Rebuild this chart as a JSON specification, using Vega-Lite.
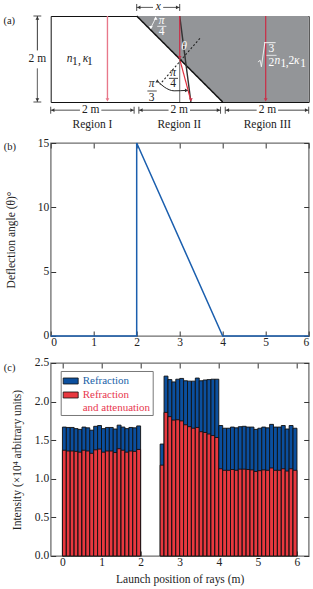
{"$schema":"https://vega.github.io/schema/vega-lite/v6.json","padding":{"left":2.7,"top":0,"right":0,"bottom":0},"bounds":"flush","spacing":41,"background":"white",
"config":{"font":"Liberation Serif","view":{"stroke":"#6e6e6e","strokeWidth":1.3},"axis":{"labelFont":"Liberation Serif","titleFont":"Liberation Serif","labelFontSize":11.5,"titleFontSize":11.5,"titleFontWeight":"normal","labelColor":"#222","titleColor":"#222","grid":false,"domain":false,"ticks":true,"tickColor":"#333","tickSize":-5,"tickWidth":1,"labelPadding":6,"zindex":1},"text":{"font":"Liberation Serif"}},
"vconcat":[
{"width":258,"height":86,"view":{"stroke":"#111","strokeWidth":1},
"encoding":{"x":{"field":"x","type":"quantitative","scale":{"domain":[0,6]},"axis":null},"y":{"field":"y","type":"quantitative","scale":{"domain":[0,2]},"axis":null}},
"layer":[
{"data":{"values":[{"x":2,"y":2,"y2":2},{"x":4,"y":2,"y2":0},{"x":6,"y":2,"y2":0}]},"mark":{"type":"area","color":"#939598","clip":false},"encoding":{"y2":{"field":"y2"}}},
{"data":{"values":[
{"x":2,"y":2,"x2":4,"y2":0,"kind":"edge"},
{"x":1.32,"y":2,"x2":1.32,"y2":0.05,"kind":"pink"},
{"x":5,"y":2,"x2":5,"y2":0.05,"kind":"dark"},
{"x":3,"y":1,"x2":3,"y2":0,"kind":"grey"},
{"x":3,"y":2,"x2":3.26,"y2":0,"kind":"edgethin"},
{"x":3,"y":2,"x2":3,"y2":1.03,"kind":"dark"},
{"x":3,"y":1,"x2":3.26,"y2":0.03,"kind":"red"},
{"x":3.47,"y":1.48,"x2":2.54,"y2":0.41,"kind":"dash"},
{"x":-0.31,"y":2,"x2":-0.31,"y2":1.2,"kind":"dim"},
{"x":-0.31,"y":0.78,"x2":-0.31,"y2":0,"kind":"dim"},
{"x":-0.4,"y":2,"x2":-0.22,"y2":2,"kind":"dim"},
{"x":-0.4,"y":0,"x2":-0.22,"y2":0,"kind":"dim"},
{"x":0,"y":-0.19,"x2":0.68,"y2":-0.19,"kind":"dim"},
{"x":1.18,"y":-0.19,"x2":1.94,"y2":-0.19,"kind":"dim"},
{"x":2.05,"y":-0.19,"x2":2.74,"y2":-0.19,"kind":"dim"},
{"x":3.24,"y":-0.19,"x2":3.95,"y2":-0.19,"kind":"dim"},
{"x":4.06,"y":-0.19,"x2":4.79,"y2":-0.19,"kind":"dim"},
{"x":5.29,"y":-0.19,"x2":6,"y2":-0.19,"kind":"dim"},
{"x":0,"y":-0.11,"x2":0,"y2":-0.27,"kind":"dim"},
{"x":1.94,"y":-0.11,"x2":1.94,"y2":-0.27,"kind":"dim"},
{"x":2.05,"y":-0.11,"x2":2.05,"y2":-0.27,"kind":"dim"},
{"x":3.95,"y":-0.11,"x2":3.95,"y2":-0.27,"kind":"dim"},
{"x":4.06,"y":-0.11,"x2":4.06,"y2":-0.27,"kind":"dim"},
{"x":6,"y":-0.11,"x2":6,"y2":-0.27,"kind":"dim"},
{"x":2,"y":2.2,"x2":2.38,"y2":2.2,"kind":"dim"},
{"x":2.62,"y":2.2,"x2":3,"y2":2.2,"kind":"dim"},
{"x":2,"y":2.12,"x2":2,"y2":2.28,"kind":"dim"},
{"x":3,"y":2.12,"x2":3,"y2":2.28,"kind":"dim"},
{"x":2.48,"y":1.76,"x2":2.69,"y2":1.76,"kind":"white"},
{"x":2.33,"y":1.73,"x2":2.44,"y2":1.95,"kind":"white"},
{"x":2.75,"y":0.55,"x2":2.96,"y2":0.55,"kind":"dim"},
{"x":2.25,"y":0.256,"x2":2.465,"y2":0.256,"kind":"dim"},
{"x":5.02,"y":1.085,"x2":5.25,"y2":1.085,"kind":"white"},
{"x":4.96,"y":1.38,"x2":5.23,"y2":1.38,"kind":"white"},
{"x":4.82,"y":0.93,"x2":4.87,"y2":0.97,"kind":"white"},
{"x":4.87,"y":0.97,"x2":4.9,"y2":0.82,"kind":"white"},
{"x":4.9,"y":0.82,"x2":4.98,"y2":1.38,"kind":"white"}
]},"mark":{"type":"rule","clip":false},"encoding":{"x2":{"field":"x2"},"y2":{"field":"y2"},
"color":{"field":"kind","type":"nominal","legend":null,"scale":{"domain":["edge","edgethin","pink","dark","red","grey","dash","dim","white"],"range":["#111","#333","#e8788a","#c8324a","#e0303f","#777","#222","#333","#fff"]}},
"size":{"field":"kind","type":"nominal","legend":null,"scale":{"domain":["edge","edgethin","pink","dark","red","grey","dash","dim","white"],"range":[1.5,0.9,1,1,1.4,1,0.9,0.8,1]}},
"strokeDash":{"field":"kind","type":"nominal","legend":null,"scale":{"domain":["edge","edgethin","pink","dark","red","grey","dash","dim","white"],"range":[[1,0],[1,0],[1,0],[1,0],[1,0],[1,0],[2,2],[1,0],[1,0]]}}}},
{"data":{"values":[{"x":2.48,"y":0.49},{"x":2.64,"y":0.35},{"x":2.87,"y":0.26},{"x":3.16,"y":0.27}]},"mark":{"type":"line","color":"#222","strokeWidth":1,"interpolate":"monotone","clip":false},"encoding":{}},
{"data":{"values":[
{"x":1.32,"y":0.05,"dir":"triangle-down","kind":"pink"},
{"x":5,"y":0.05,"dir":"triangle-down","kind":"dark"},
{"x":3,"y":1.03,"dir":"triangle-down","kind":"dark"},
{"x":3.26,"y":0.05,"dir":"triangle-down","kind":"dark"},
{"x":2.48,"y":0.49,"dir":"triangle-up","kind":"dim"},
{"x":3.16,"y":0.27,"dir":"triangle-right","kind":"dim"},
{"x":-0.31,"y":1.95,"dir":"triangle-up","kind":"dim"},
{"x":-0.31,"y":0.05,"dir":"triangle-down","kind":"dim"},
{"x":0.05,"y":-0.19,"dir":"triangle-left","kind":"dim"},
{"x":1.89,"y":-0.19,"dir":"triangle-right","kind":"dim"},
{"x":2.1,"y":-0.19,"dir":"triangle-left","kind":"dim"},
{"x":3.9,"y":-0.19,"dir":"triangle-right","kind":"dim"},
{"x":4.11,"y":-0.19,"dir":"triangle-left","kind":"dim"},
{"x":5.95,"y":-0.19,"dir":"triangle-right","kind":"dim"},
{"x":2.05,"y":2.2,"dir":"triangle-left","kind":"dim"},
{"x":2.95,"y":2.2,"dir":"triangle-right","kind":"dim"},
{"x":2.33,"y":1.73,"dir":"triangle-down","kind":"white"},
{"x":2.44,"y":1.95,"dir":"triangle-up","kind":"white"}
]},"mark":{"type":"point","filled":true,"size":14,"opacity":1,"clip":false},"encoding":{"shape":{"field":"dir","type":"nominal","scale":null},
"color":{"field":"kind","type":"nominal","legend":null,"scale":{"domain":["edge","edgethin","pink","dark","red","grey","dash","dim","white"],"range":["#111","#333","#e8788a","#c8324a","#e0303f","#777","#222","#333","#fff"]}}}},
{"data":{"values":[{"x":-1.1,"y":1.88,"label":"(a)"}]},"mark":{"type":"text","fontSize":10.5,"color":"#222","align":"left","clip":false},"encoding":{"text":{"field":"label"}}},
{"data":{"values":[
{"x":-0.31,"y":0.99,"label":"2 m"},
{"x":0.93,"y":-0.19,"label":"2 m"},
{"x":2.99,"y":-0.19,"label":"2 m"},
{"x":5.04,"y":-0.19,"label":"2 m"},
{"x":0.97,"y":-0.535,"label":"Region I"},
{"x":2.99,"y":-0.535,"label":"Region II"},
{"x":5.04,"y":-0.535,"label":"Region III"},
{"x":2.85,"y":0.43,"label":"4"},
{"x":2.35,"y":0.1,"label":"3"},
{"x":0.56,"y":0.93,"label":"1"},
{"x":0.67,"y":0.95,"label":","},
{"x":0.91,"y":0.93,"label":"1"}
]},"mark":{"type":"text","fontSize":11.5,"color":"#222","clip":false},"encoding":{"text":{"field":"label"}}},
{"data":{"values":[
{"x":0.44,"y":1.0,"label":"n"},
{"x":0.81,"y":1.0,"label":"κ"},
{"x":2.5,"y":2.2,"label":"x"},
{"x":2.85,"y":0.68,"label":"π"},
{"x":2.35,"y":0.41,"label":"π"}
]},"mark":{"type":"text","fontSize":11.5,"fontStyle":"italic","color":"#222","clip":false},"encoding":{"text":{"field":"label"}}},
{"data":{"values":[
{"x":2.58,"y":1.635,"label":"4"},
{"x":5.13,"y":1.225,"label":"3"},
{"x":5.13,"y":0.9,"label":"2"},
{"x":5.41,"y":0.88,"label":"1"},
{"x":5.5,"y":0.9,"label":","},
{"x":5.6,"y":0.95,"label":"2"},
{"x":5.87,"y":0.88,"label":"1"}
]},"mark":{"type":"text","fontSize":11.5,"color":"#fff","clip":false},"encoding":{"text":{"field":"label"}}},
{"data":{"values":[
{"x":2.58,"y":1.88,"label":"π"},
{"x":3.1,"y":1.28,"label":"θ"},
{"x":5.27,"y":0.95,"label":"n"},
{"x":5.72,"y":0.95,"label":"κ"}
]},"mark":{"type":"text","fontSize":11.5,"fontStyle":"italic","color":"#fff","clip":false},"encoding":{"text":{"field":"label"}}}
]},
{"bounds":"flush","spacing":27,"vconcat":[
{"width":258,"height":193,
"resolve":{"axis":{"x":"independent","y":"independent"}},
"layer":[
{"data":{"values":[{"x":0,"y":0,"ord":0},{"x":2,"y":0,"ord":1},{"x":2,"y":15,"ord":2},{"x":4,"y":0,"ord":3},{"x":6,"y":0,"ord":4}]},"mark":{"type":"line","color":"#1b5fae","strokeWidth":1.5,"clip":false},
"encoding":{"x":{"field":"x","type":"quantitative","scale":{"domain":[0,6],"nice":false,"zero":false},"axis":{"values":[0,1,2,3,4,5,6],"title":null}},
"y":{"field":"y","type":"quantitative","scale":{"domain":[0,15],"nice":false,"zero":false},"axis":{"values":[0,5,10,15],"title":"Deflection angle (θ)°","labelPadding":7,"titlePadding":21}},"order":{"field":"ord"}}},
{"data":{"values":[{"x":0,"y":0},{"x":6,"y":15}]},"mark":{"type":"point","opacity":0},
"encoding":{"x":{"field":"x","type":"quantitative","scale":{"domain":[0,6],"nice":false,"zero":false},"axis":{"orient":"top","values":[0,1,2,3,4,5,6],"labels":false,"title":null}},
"y":{"field":"y","type":"quantitative","scale":{"domain":[0,15],"nice":false,"zero":false},"axis":{"orient":"right","values":[0,5,10,15],"labels":false,"title":null}}}},
{"data":{"values":[{"x":-1.09,"y":14.66,"label":"(b)"}]},"mark":{"type":"text","fontSize":10.5,"color":"#222","align":"left","clip":false},
"encoding":{"x":{"field":"x","type":"quantitative","scale":{"domain":[0,6],"nice":false,"zero":false},"axis":null},"y":{"field":"y","type":"quantitative","scale":{"domain":[0,15],"nice":false,"zero":false},"axis":null},"text":{"field":"label"}}}
]},
{"width":258,"height":193,
"resolve":{"axis":{"x":"independent","y":"independent"}},
"data":{"values":[
{"start":0.0,"end":0.1,"refraction":1.67,"attenuation":1.37},{"start":0.1,"end":0.2,"refraction":1.665,"attenuation":1.36},{"start":0.2,"end":0.3,"refraction":1.665,"attenuation":1.36},{"start":0.3,"end":0.4,"refraction":1.65,"attenuation":1.355},{"start":0.4,"end":0.5,"refraction":1.64,"attenuation":1.345},{"start":0.5,"end":0.6,"refraction":1.67,"attenuation":1.37},{"start":0.6,"end":0.7,"refraction":1.66,"attenuation":1.36},{"start":0.7,"end":0.8,"refraction":1.63,"attenuation":1.33},{"start":0.8,"end":0.9,"refraction":1.68,"attenuation":1.375},{"start":0.9,"end":1.0,"refraction":1.69,"attenuation":1.385},{"start":1.0,"end":1.1,"refraction":1.65,"attenuation":1.345},{"start":1.1,"end":1.2,"refraction":1.665,"attenuation":1.36},{"start":1.2,"end":1.3,"refraction":1.665,"attenuation":1.36},{"start":1.3,"end":1.4,"refraction":1.645,"attenuation":1.34},{"start":1.4,"end":1.5,"refraction":1.695,"attenuation":1.39},{"start":1.5,"end":1.6,"refraction":1.67,"attenuation":1.37},{"start":1.6,"end":1.7,"refraction":1.65,"attenuation":1.345},{"start":1.7,"end":1.8,"refraction":1.665,"attenuation":1.36},{"start":1.8,"end":1.9,"refraction":1.66,"attenuation":1.355},{"start":1.9,"end":2.0,"refraction":1.685,"attenuation":1.38},
{"start":2.5,"end":2.6,"refraction":1.45,"attenuation":1.177},{"start":2.6,"end":2.7,"refraction":2.33,"attenuation":1.86},{"start":2.7,"end":2.8,"refraction":2.285,"attenuation":1.805},{"start":2.8,"end":2.9,"refraction":2.255,"attenuation":1.76},{"start":2.9,"end":3.0,"refraction":2.29,"attenuation":1.765},{"start":3.0,"end":3.1,"refraction":2.3,"attenuation":1.75},{"start":3.1,"end":3.2,"refraction":2.27,"attenuation":1.7},{"start":3.2,"end":3.3,"refraction":2.265,"attenuation":1.675},{"start":3.3,"end":3.4,"refraction":2.265,"attenuation":1.655},{"start":3.4,"end":3.5,"refraction":2.305,"attenuation":1.665},{"start":3.5,"end":3.6,"refraction":2.27,"attenuation":1.61},{"start":3.6,"end":3.7,"refraction":2.28,"attenuation":1.6},{"start":3.7,"end":3.8,"refraction":2.285,"attenuation":1.58},{"start":3.8,"end":3.9,"refraction":2.29,"attenuation":1.56},{"start":3.9,"end":4.0,"refraction":2.29,"attenuation":1.535},
{"start":4.0,"end":4.1,"refraction":1.69,"attenuation":1.13},{"start":4.1,"end":4.2,"refraction":1.655,"attenuation":1.11},{"start":4.2,"end":4.3,"refraction":1.655,"attenuation":1.11},{"start":4.3,"end":4.4,"refraction":1.67,"attenuation":1.12},{"start":4.4,"end":4.5,"refraction":1.66,"attenuation":1.11},{"start":4.5,"end":4.6,"refraction":1.675,"attenuation":1.125},{"start":4.6,"end":4.7,"refraction":1.68,"attenuation":1.125},{"start":4.7,"end":4.8,"refraction":1.67,"attenuation":1.12},{"start":4.8,"end":4.9,"refraction":1.67,"attenuation":1.115},{"start":4.9,"end":5.0,"refraction":1.64,"attenuation":1.095},{"start":5.0,"end":5.1,"refraction":1.655,"attenuation":1.105},{"start":5.1,"end":5.2,"refraction":1.67,"attenuation":1.115},{"start":5.2,"end":5.3,"refraction":1.66,"attenuation":1.11},{"start":5.3,"end":5.4,"refraction":1.705,"attenuation":1.14},{"start":5.4,"end":5.5,"refraction":1.67,"attenuation":1.11},{"start":5.5,"end":5.6,"refraction":1.67,"attenuation":1.11},{"start":5.6,"end":5.7,"refraction":1.69,"attenuation":1.13},{"start":5.7,"end":5.8,"refraction":1.645,"attenuation":1.1},{"start":5.8,"end":5.9,"refraction":1.69,"attenuation":1.13},{"start":5.9,"end":6.0,"refraction":1.655,"attenuation":1.11}
]},
"layer":[
{"transform":[{"fold":["refraction","attenuation"],"as":["series","value"]}],"mark":{"type":"bar","stroke":"#111","strokeWidth":0.9},
"encoding":{"x":{"field":"start","type":"quantitative","scale":{"domain":[-0.3,6.3],"nice":false,"zero":false},"axis":{"values":[0,1,2,3,4,5,6],"title":"Launch position of rays (m)","titlePadding":5}},"x2":{"field":"end"},
"y":{"field":"value","type":"quantitative","scale":{"domain":[0,2.5],"nice":false,"zero":false},"axis":{"values":[0,0.5,1,1.5,2,2.5],"format":".1f","title":"Intensity (×10⁴ arbitrary units)","labelPadding":7,"titlePadding":12}},"y2":{"datum":0},
"fill":{"field":"series","type":"nominal","sort":null,"scale":{"domain":["refraction","attenuation"],"range":["#0b4f9e","#e8383f"]},
"legend":{"title":null,"orient":"none","legendX":10,"legendY":355,"fillColor":"white","strokeColor":"#777","padding":2,"labelFont":"Liberation Serif","labelFontSize":11,"rowPadding":1,"symbolType":"M-1,-0.4H1V0.4H-1Z","symbolSize":225,"symbolStrokeColor":"#111","symbolStrokeWidth":0.8,"labelExpr":"datum.label=='refraction'?'Refraction':['Refraction','and attenuation']","encode":{"labels":{"update":{"fill":{"signal":"datum.value=='refraction'?'#1a5fa8':'#e8384f'"}}}}}}}},
{"mark":{"type":"point","opacity":0},
"encoding":{"x":{"field":"start","type":"quantitative","scale":{"domain":[-0.3,6.3],"nice":false,"zero":false},"axis":{"orient":"top","values":[0,1,2,3,4,5,6],"labels":false,"title":null}},
"y":{"field":"refraction","type":"quantitative","scale":{"domain":[0,2.5],"nice":false,"zero":false},"axis":{"orient":"right","values":[0,0.5,1,1.5,2,2.5],"labels":false,"title":null}}}},
{"data":{"values":[{"x":-1.5,"y":2.436,"label":"(c)"}]},"mark":{"type":"text","fontSize":10.5,"color":"#222","align":"left","clip":false},"encoding":{"x":{"field":"x","type":"quantitative","scale":{"domain":[-0.3,6.3],"nice":false,"zero":false},"axis":null},"y":{"field":"y","type":"quantitative","scale":{"domain":[0,2.5],"nice":false,"zero":false},"axis":null},"text":{"field":"label"}}}
]}
]}
]}
